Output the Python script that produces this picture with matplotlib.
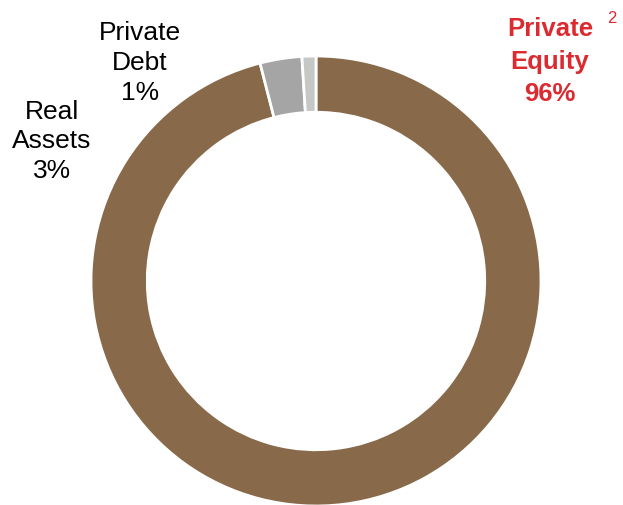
import matplotlib.pyplot as plt

plt.rcParams['font.family'] = ['Liberation Sans', 'DejaVu Sans']

labels = ['Private Equity', 'Real Assets', 'Private Debt']
shares = [96, 3, 1]
colors = ['#886A4B', '#A5A5A5', '#C6C8C6']

fig = plt.figure(figsize=(6.23, 5.05), dpi=100)
ax = fig.add_axes([0, 0, 1, 1])

ax.pie(shares, colors=colors, startangle=90, counterclock=False, radius=1,
       wedgeprops=dict(width=0.25, edgecolor='white', linewidth=2))

# one data unit = 225 px, donut centre at (316, 281) from top-left
ax.set_xlim(-316 / 225, (623 - 316) / 225)
ax.set_ylim(-224 / 225, 281 / 225)
ax.set_aspect('auto')
ax.axis('off')

red = '#DB2A30'
ax.text(1.04, 0.975, 'Private\nEquity\n96%', ha='center', va='center',
        fontsize=18.5, fontweight='bold', color=red, linespacing=1.45)
ax.text(1.316, 1.165, '2', ha='center', va='center', fontsize=12, color=red)
ax.text(-0.782, 0.97, 'Private\nDebt\n1%', ha='center', va='center',
        fontsize=19, linespacing=1.32)
ax.text(-1.173, 0.62, 'Real\nAssets\n3%', ha='center', va='center',
        fontsize=19, linespacing=1.27)

fig.savefig('out.png', dpi=100)
